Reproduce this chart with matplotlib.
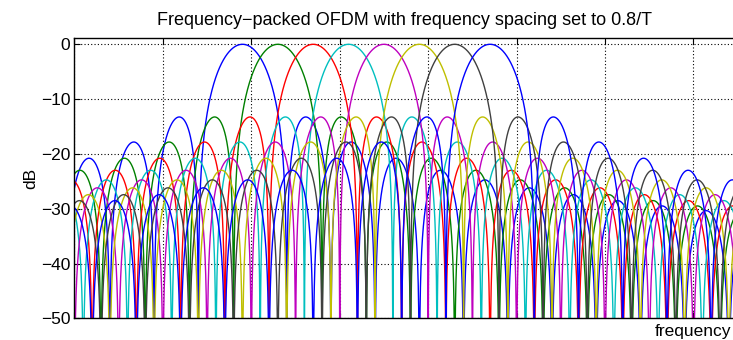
import matplotlib
matplotlib.use('Agg')
import matplotlib.pyplot as plt
import numpy as np

plt.rcParams['font.family'] = ['Liberation Sans', 'DejaVu Sans']
plt.rcParams['axes.unicode_minus'] = True

# centre frequencies of the 8 subcarriers (units of 1/T), spacing 0.8/T
centres = [3.8, 4.6, 5.4, 6.2, 7.0, 7.8, 8.6, 9.4]
# old matlab color order, cycling back to blue for the 8th carrier
colores = ['#0000ff', '#008000', '#ff0000', '#00bfbf', '#bf00bf', '#bfbf00', '#404040', '#0000ff']
yticks = [0, -10, -20, -30, -40, -50]
xgrid = [0, 2, 4, 6, 8, 10, 12, 14]

fig = plt.figure(figsize=(7.33, 3.4), dpi=100)
ax = fig.add_axes([0.1016, 0.0638, 0.9, 0.8253])

# espectro sinc^2 de cada subportadora
f = np.linspace(0, 15.2, 12000)
for fc, c in zip(centres, colores):
    s = np.sinc(f - fc) ** 2
    db = 10 * np.log10(np.maximum(s, 1e-12))
    ax.plot(f, db, color=c, lw=1.0)

ax.set_xlim(0, 14.92)
ax.set_ylim(-50, 1.2)
ax.set_yticks(yticks)
ax.set_xticks(xgrid)
ax.set_xticklabels([])
ax.grid(True, color='black', linestyle=(0, (1, 2)), linewidth=0.8)
ax.tick_params(direction='in', top=True, right=False, length=4, labelsize=12.5, pad=3)
ax.spines['right'].set_visible(False)
for s in ['top', 'bottom', 'left']:
    ax.spines[s].set_linewidth(1.0)

ax.set_title('Frequency\u2212packed OFDM with frequency spacing set to 0.8/T', fontsize=13, pad=9)
ax.set_ylabel('dB', fontsize=12.5, labelpad=2)
fig.text(0.997, 0.025, 'frequency', ha='right', va='center', fontsize=12.5)

fig.savefig('out.png', dpi=100)
